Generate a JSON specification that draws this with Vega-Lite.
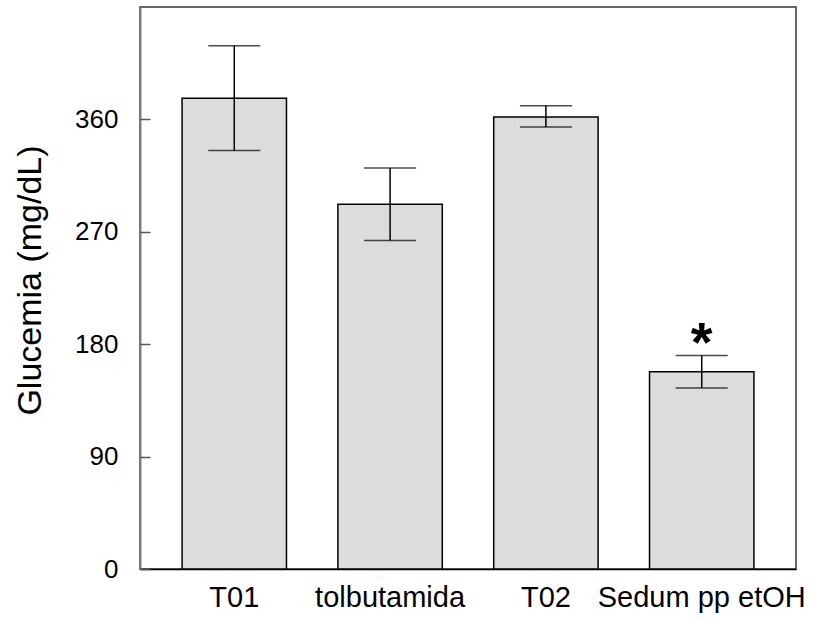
{
  "$schema": "https://vega.github.io/schema/vega-lite/v6.json",
  "width": 656,
  "height": 562,
  "autosize": "none",
  "padding": {"left": 140, "top": 7, "right": 33, "bottom": 50},
  "background": "white",
  "config": {
    "view": {"stroke": "#666666", "strokeWidth": 2},
    "font": "Liberation Sans",
    "axisX": {
      "labelAngle": 0,
      "labelFontSize": 29,
      "labelColor": "black",
      "labelPadding": 14,
      "labelLimit": 0,
      "ticks": false,
      "domainColor": "black",
      "domainWidth": 1.5
    }
  },
  "resolve": {"axis": {"y": "independent"}},
  "data": {
    "values": [
      {"group": "T01", "mean": 377, "lo": 335, "hi": 419, "sig": ""},
      {"group": "tolbutamida", "mean": 292, "lo": 263, "hi": 321, "sig": ""},
      {"group": "T02", "mean": 362, "lo": 354, "hi": 371, "sig": ""},
      {"group": "Sedum pp etOH", "mean": 158, "lo": 145, "hi": 171, "sig": "*"}
    ]
  },
  "encoding": {
    "x": {
      "field": "group",
      "type": "nominal",
      "sort": null,
      "scale": {"paddingInner": 0.33, "paddingOuter": 0.27},
      "axis": {"title": null}
    }
  },
  "layer": [
    {
      "mark": {"type": "bar", "fill": "#dcdcdc", "stroke": "black", "strokeWidth": 1.5},
      "encoding": {
        "y": {
          "field": "mean",
          "type": "quantitative",
          "scale": {"domain": [0, 450], "nice": false},
          "axis": {
            "title": "Glucemia (mg/dL)",
            "orient": "left",
            "titleX": -93,
            "titleY": 273,
            "titleFontSize": 34,
            "titleFontWeight": "normal",
            "titleColor": "black",
            "values": [0, 90, 180, 270, 360],
            "grid": false,
            "labelFontSize": 26,
            "labelColor": "black",
            "labelPadding": 22,
            "ticks": false,
            "domainColor": "#808080",
            "domainWidth": 2
          }
        }
      }
    },
    {
      "mark": {
        "type": "errorbar",
        "ticks": {"size": 52, "thickness": 1.5, "color": "black"},
        "rule": {"strokeWidth": 1.5, "color": "black"}
      },
      "encoding": {
        "y": {"field": "lo", "type": "quantitative", "axis": null},
        "y2": {"field": "hi"}
      }
    },
    {
      "mark": {"type": "text", "fontSize": 56, "fontWeight": "bold", "baseline": "alphabetic", "dy": 6, "color": "black"},
      "encoding": {
        "y": {
          "field": "hi",
          "type": "quantitative",
          "axis": {
            "title": null,
            "orient": "right",
            "offset": -656,
            "values": [0, 90, 180, 270, 360],
            "labels": false,
            "domain": false,
            "grid": false,
            "ticks": true,
            "tickSize": 10,
            "tickColor": "#555555",
            "tickWidth": 1.5
          }
        },
        "text": {"field": "sig"}
      }
    }
  ]
}
